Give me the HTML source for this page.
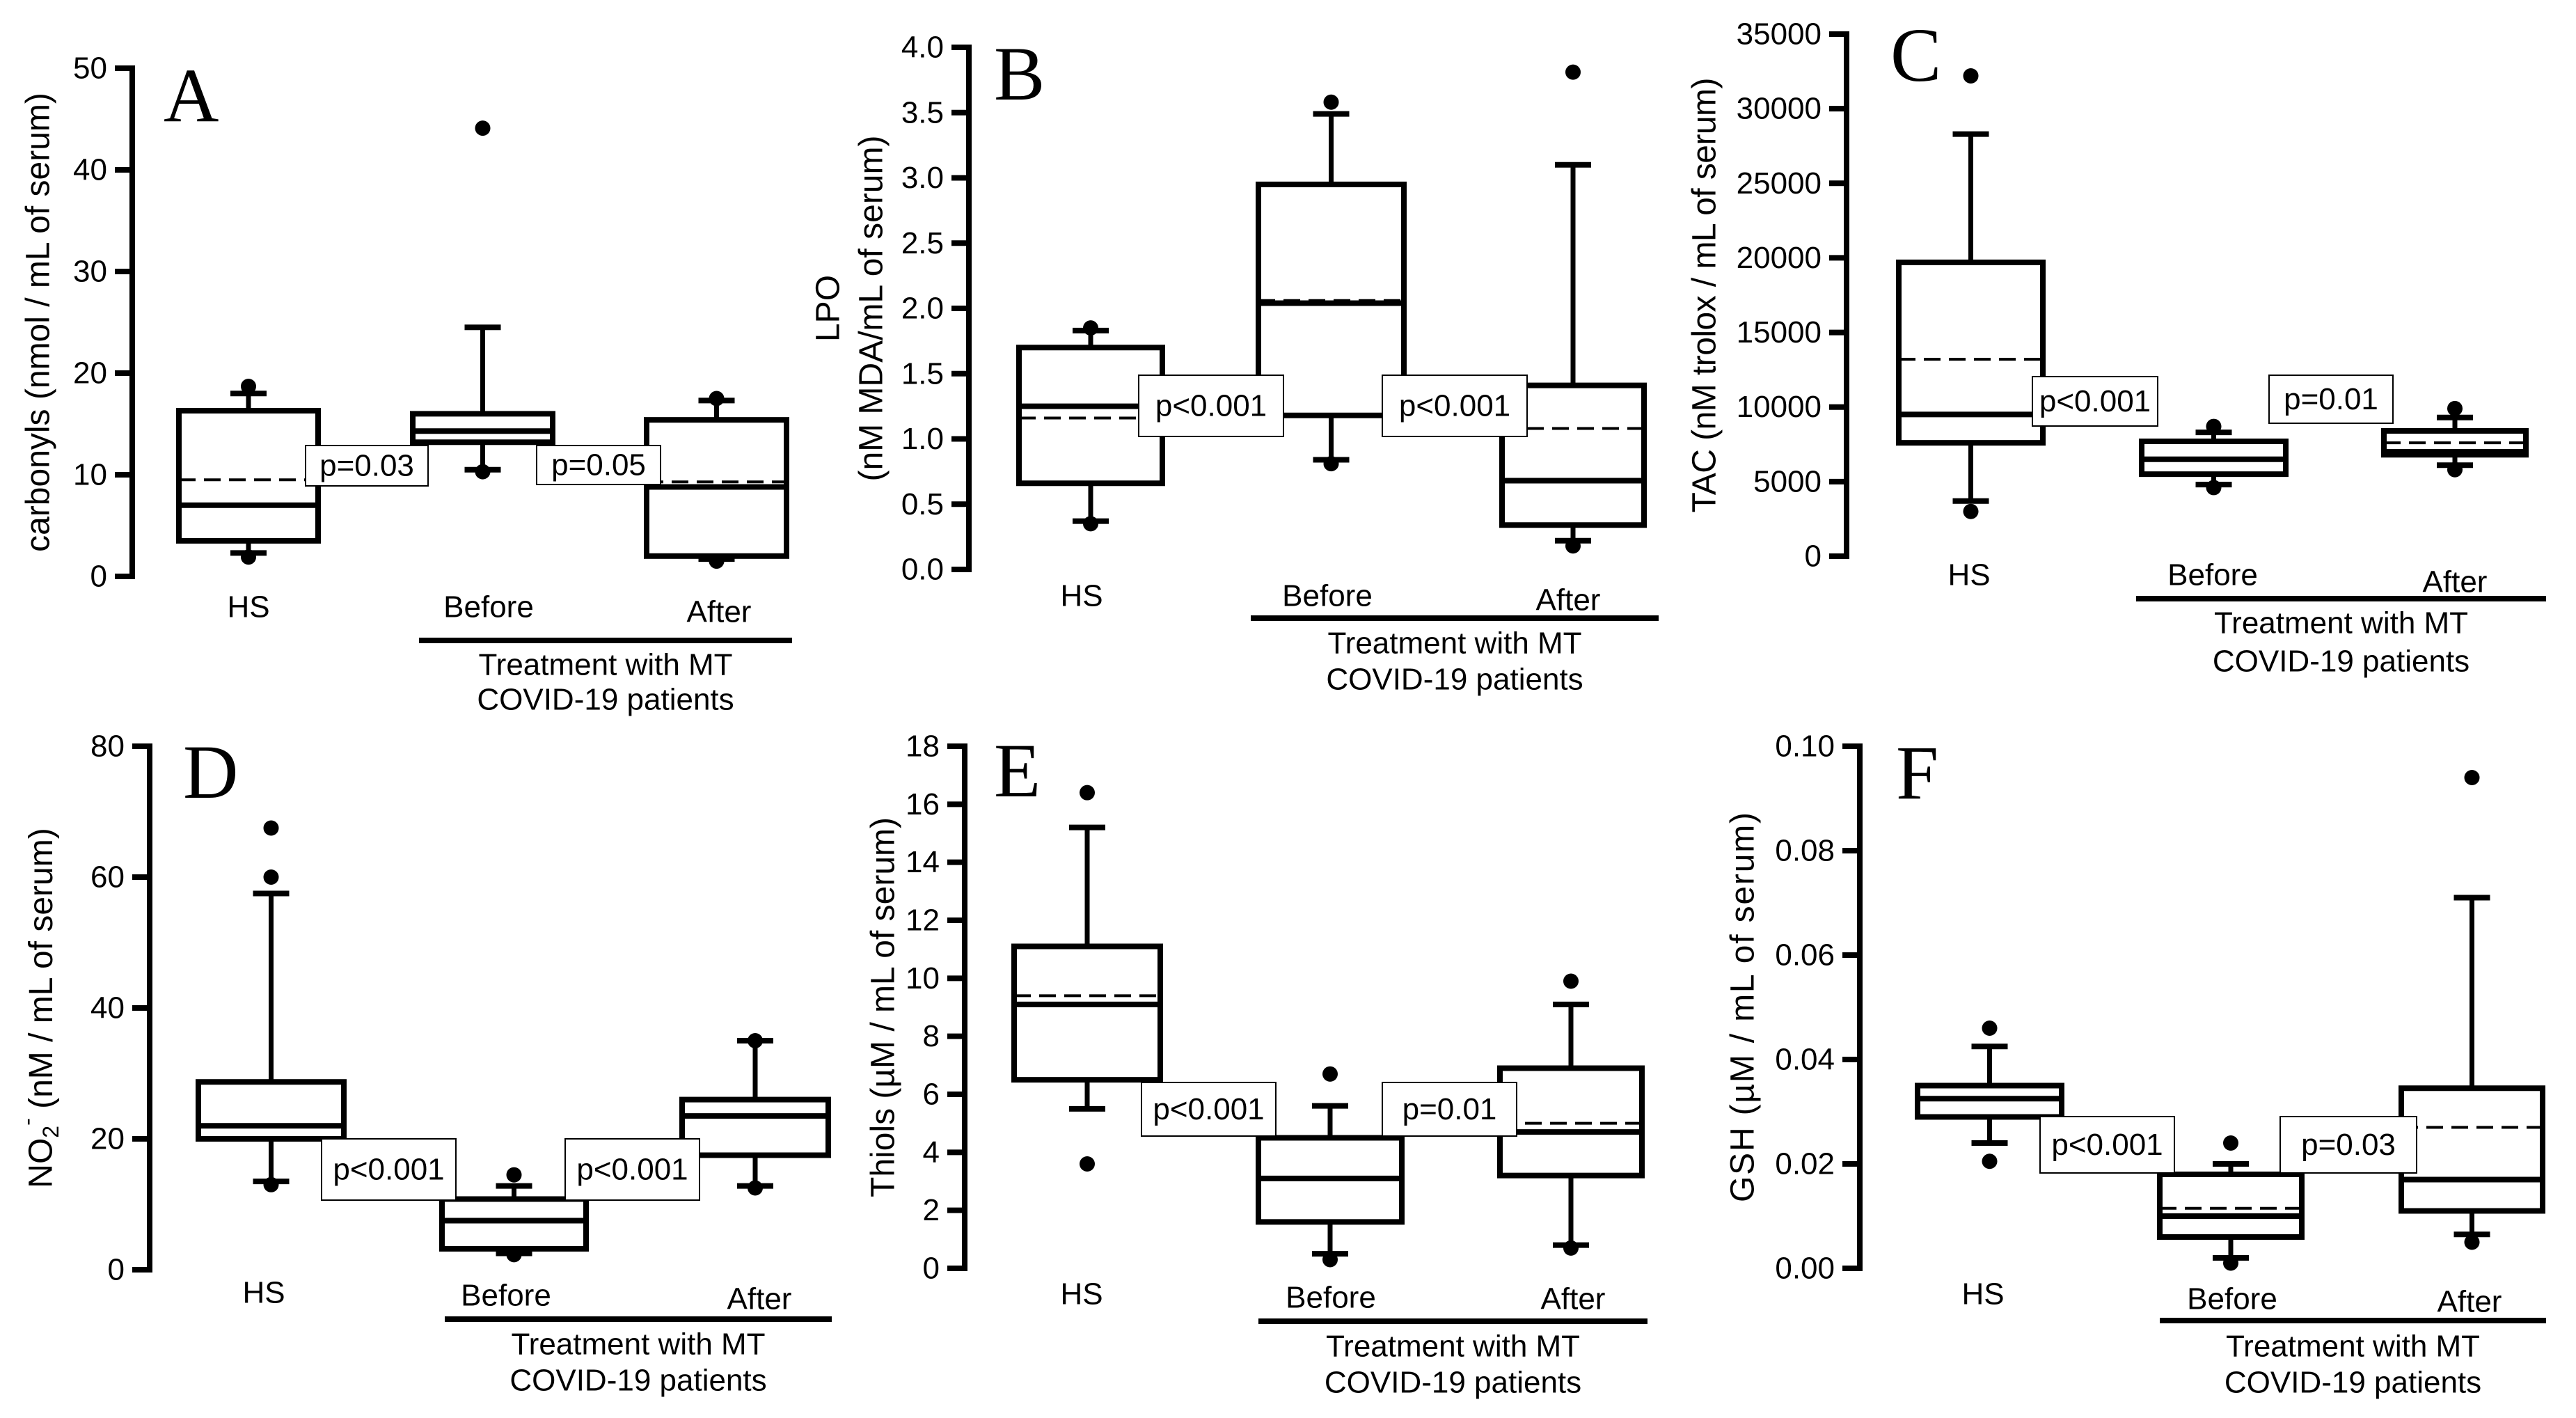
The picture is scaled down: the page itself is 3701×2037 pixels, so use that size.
<!DOCTYPE html>
<html><head><meta charset="utf-8"><style>
html,body{margin:0;padding:0;background:#fff}
svg{display:block}
text{font-family:"Liberation Sans",Arial,sans-serif;fill:#000}
</style></head><body>
<svg id="fig" width="3701" height="2037" viewBox="0 0 3701 2037" xmlns="http://www.w3.org/2000/svg"></svg>
<script>
// ---- data (top-level arrays) ----
const groups = ["HS","Before","After"];
const A_q1=[3.5,13.2,2.0], A_q3=[16.3,16.0,15.4], A_med=[7.0,14.3,8.8], A_mean=[9.5,null,9.3], A_lo=[2.3,10.5,1.7], A_hi=[18.0,24.5,17.3], A_out=[[1.9,18.7],[10.3,44.1],[1.5,17.5]];
const B_q1=[0.66,1.18,0.34], B_q3=[1.70,2.95,1.41], B_med=[1.25,2.04,0.68], B_mean=[1.16,2.06,1.08], B_lo=[0.37,0.84,0.22], B_hi=[1.83,3.49,3.10], B_out=[[0.35,1.85],[0.81,3.58],[0.18,3.81]];
const C_q1=[7600,5500,6800], C_q3=[19700,7700,8400], C_med=[9500,6500,7000], C_mean=[13200,null,7600], C_lo=[3700,4800,6100], C_hi=[28300,8300,9300], C_out=[[3000,32200],[4600,8700],[5800,9900]];
const D_q1=[20,3.2,17.5], D_q3=[28.7,10.8,26], D_med=[22,7.5,23.5], D_mean=[null,null,null], D_lo=[13.5,2.5,12.8], D_hi=[57.5,12.8,35], D_out=[[13,60,67.5],[2.3,14.5],[12.5,35]];
const E_q1=[6.5,1.6,3.2], E_q3=[11.1,4.5,6.9], E_med=[9.1,3.1,4.7], E_mean=[9.4,null,5.0], E_lo=[5.5,0.5,0.8], E_hi=[15.2,5.6,9.1], E_out=[[3.6,16.4],[0.3,6.7],[0.7,9.9]];
const F_q1=[0.029,0.006,0.011], F_q3=[0.035,0.018,0.0345], F_med=[0.0325,0.010,0.017], F_mean=[null,0.0115,0.027], F_lo=[0.024,0.002,0.0065], F_hi=[0.0425,0.020,0.071], F_out=[[0.0205,0.046],[0.001,0.024],[0.005,0.094]];
const A_ticks=["0","10","20","30","40","50"];
const B_ticks=["0.0","0.5","1.0","1.5","2.0","2.5","3.0","3.5","4.0"];
const C_ticks=["0","5000","10000","15000","20000","25000","30000","35000"];
const D_ticks=["0","20","40","60","80"];
const E_ticks=["0","2","4","6","8","10","12","14","16","18"];
const F_ticks=["0.00","0.02","0.04","0.06","0.08","0.10"];
const A_p=["p=0.03","p=0.05"], B_p=["p<0.001","p<0.001"], C_p=["p<0.001","p=0.01"], D_p=["p<0.001","p<0.001"], E_p=["p<0.001","p=0.01"], F_p=["p<0.001","p=0.03"];

const NS="http://www.w3.org/2000/svg";
const svg=document.getElementById('fig');
function mk(tag,attrs,parent){const e=document.createElementNS(NS,tag);for(const k in attrs)e.setAttribute(k,attrs[k]);(parent||svg).appendChild(e);return e;}

const panels=[
 {id:'a',L:'A',lx:235,ly:174,ax:190,y0:828,yT:98,max:50,ticks:A_ticks,boxes:[[257,457],[593,794],[929,1130]],
  pb:[[439,640,615,698],[771,640,949,696]],p:A_p,lab:[[357,872],[702,872],[1033,879]],ul:[602,1138,920],tr:[955,1005],
  title:["carbonyls (nmol / mL of serum)"],tx:[55],data:[A_q1,A_q3,A_med,A_mean,A_lo,A_hi,A_out]},
 {id:'b',L:'B',lx:1428,ly:143,ax:1392,y0:818,yT:68,max:4,ticks:B_ticks,boxes:[[1464,1670],[1808,2017],[2158,2362]],
  pb:[[1636,539,1844,627],[1986,539,2194,627]],p:B_p,lab:[[1554,856],[1907,856],[2253,862]],ul:[1797,2383,888],tr:[924,976],
  title:["LPO","(nM MDA/mL of serum)"],tx:[1190,1252],data:[B_q1,B_q3,B_med,B_mean,B_lo,B_hi,B_out]},
 {id:'c',L:'C',lx:2716,ly:116,ax:2653,y0:799,yT:49,max:35000,ticks:C_ticks,boxes:[[2728,2935],[3077,3284],[3425,3629]],
  pb:[[2920,541,3100,612],[3260,539,3438,608]],p:C_p,lab:[[2829,826],[3179,826],[3527,836]],ul:[3069,3658,860],tr:[895,950],
  title:["TAC (nM trolox / mL of serum)"],tx:[2449],tl:625,data:[C_q1,C_q3,C_med,C_mean,C_lo,C_hi,C_out]},
 {id:'d',L:'D',lx:263,ly:1146,ax:215,y0:1824,yT:1072,max:80,ticks:D_ticks,boxes:[[285,494],[635,842],[980,1190]],
  pb:[[462,1636,655,1724],[812,1636,1005,1724]],p:D_p,lab:[[379,1857],[727,1861],[1091,1866]],ul:[639,1195,1895],tr:[1931,1983],
  title:["NO2"],tx:[59],data:[D_q1,D_q3,D_med,D_mean,D_lo,D_hi,D_out]},
 {id:'e',L:'E',lx:1428,ly:1144,ax:1386,y0:1822,yT:1072,max:18,ticks:E_ticks,boxes:[[1457,1667],[1808,2014],[2155,2359]],
  pb:[[1640,1555,1833,1632],[1986,1555,2179,1632]],p:E_p,lab:[[1554,1859],[1912,1864],[2260,1866]],ul:[1808,2367,1898],tr:[1934,1986],
  title:["Thiols (µM / mL of serum)"],tx:[1269],data:[E_q1,E_q3,E_med,E_mean,E_lo,E_hi,E_out]},
 {id:'f',L:'F',lx:2724,ly:1147,ax:2672,y0:1822,yT:1072,max:0.10,ticks:F_ticks,boxes:[[2755,2962],[3103,3307],[3450,3653]],
  pb:[[2931,1604,3124,1685],[3276,1604,3472,1685]],p:F_p,lab:[[2849,1859],[3207,1866],[3548,1870]],ul:[3103,3658,1897],tr:[1934,1986],
  title:["GSH (µM / mL of serum)"],tx:[2504],tl:560,data:[F_q1,F_q3,F_med,F_mean,F_lo,F_hi,F_out]}
];

panels.forEach(P=>{
  const g=mk('g',{});
  
  
  const y=v=>P.y0-(v/P.max)*(P.y0-P.yT);
  // axis
  const axl=mk('line',{x1:P.ax,y1:P.yT-4,x2:P.ax,y2:P.y0+4,stroke:'#000','stroke-width':8},g);
  
  
  const n=P.ticks.length-1;
  P.ticks.forEach((t,i)=>{
    const v=P.max*i/n, yy=y(v);
    const tk=mk('line',{x1:P.ax-25,y1:yy,x2:P.ax,y2:yy,stroke:'#000','stroke-width':8},g);
    
    
    const tt=mk('text',{x:P.ax-36,y:yy,'font-size':44,'text-anchor':'end','dominant-baseline':'central'},g);
    tt.textContent=t;
    
    
  });
  // title
  if(P.id==='d'){
    const t=mk('text',{transform:`translate(${P.tx[0]},${(P.y0+P.yT)/2}) rotate(-90)`,'font-size':48,'text-anchor':'middle','dominant-baseline':'central'},g);
    t.innerHTML='NO<tspan dy="14" font-size="32">2</tspan><tspan dy="-34" font-size="32">-</tspan><tspan dy="20"> (nM / mL of serum)</tspan>';
    
    
  } else {
    P.title.forEach((s,i)=>{
      const a={transform:`translate(${P.tx[i]},${(P.y0+P.yT)/2}) rotate(-90)`,'font-size':48,'text-anchor':'middle','dominant-baseline':'central'};
      if(P.tl){a.textLength=P.tl;a.lengthAdjust='spacing';}
      const t=mk('text',a,g);t.textContent=s;
      
      
    });
  }
  // letter
  const L=mk('text',{x:P.lx,y:P.ly,'font-size':110,style:'font-family:"Liberation Serif",serif'},g);
  L.textContent=P.L;
  
  
  const [q1,q3,md,mn,lo,hi,out]=P.data;
  P.boxes.forEach((b,i)=>{
    const cx=(b[0]+b[1])/2, cw=26;
    const bg=mk('g',{},g);
    
    
    mk('line',{x1:cx,y1:y(hi[i]),x2:cx,y2:y(q3[i]),stroke:'#000','stroke-width':7},bg);
    mk('line',{x1:cx,y1:y(lo[i]),x2:cx,y2:y(q1[i]),stroke:'#000','stroke-width':7},bg);
    mk('line',{x1:cx-cw,y1:y(hi[i]),x2:cx+cw,y2:y(hi[i]),stroke:'#000','stroke-width':8},bg);
    mk('line',{x1:cx-cw,y1:y(lo[i]),x2:cx+cw,y2:y(lo[i]),stroke:'#000','stroke-width':8},bg);
    mk('rect',{x:b[0],y:y(q3[i]),width:b[1]-b[0],height:y(q1[i])-y(q3[i]),fill:'#fff',stroke:'#000','stroke-width':8},bg);
    mk('line',{x1:b[0],y1:y(md[i]),x2:b[1],y2:y(md[i]),stroke:'#000','stroke-width':8},bg);
    if(mn[i]!==null) mk('line',{x1:b[0],y1:y(mn[i]),x2:b[1],y2:y(mn[i]),stroke:'#000','stroke-width':4,'stroke-dasharray':'24 12'},bg);
    out[i].forEach(o=>{
      const c=mk('circle',{cx:cx,cy:y(o),r:11,fill:'#000'},bg);
      
      
    });
    const lt=mk('text',{x:P.lab[i][0],y:P.lab[i][1],'font-size':44,'text-anchor':'middle','dominant-baseline':'central'},g);
    lt.textContent=groups[i];
    
    
  });
  P.pb.forEach((r,i)=>{
    const pg=mk('g',{},g);
    
    
    mk('rect',{x:r[0],y:r[1],width:r[2]-r[0],height:r[3]-r[1],fill:'#fff',stroke:'#000','stroke-width':2},pg);
    const t=mk('text',{x:(r[0]+r[2])/2,y:(r[1]+r[3])/2,'font-size':44,'text-anchor':'middle','dominant-baseline':'central'},pg);
    t.textContent=P.p[i];
  });
  const ul=mk('line',{x1:P.ul[0],y1:P.ul[2],x2:P.ul[1],y2:P.ul[2],stroke:'#000','stroke-width':8},g);
  
  
  const mx=(P.ul[0]+P.ul[1])/2;
  const t1=mk('text',{x:mx,y:P.tr[0],'font-size':44,'text-anchor':'middle','dominant-baseline':'central'},g);
  t1.textContent='Treatment with MT';
  
  
  const t2=mk('text',{x:mx,y:P.tr[1],'font-size':44,'text-anchor':'middle','dominant-baseline':'central'},g);
  t2.textContent='COVID-19 patients';
  
  
});
</script>
</body></html>
